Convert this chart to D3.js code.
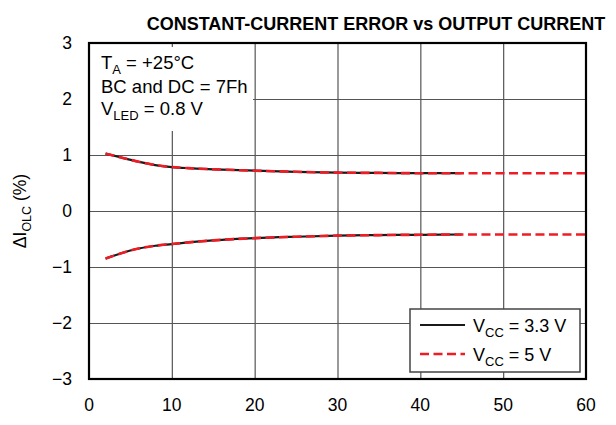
<!DOCTYPE html>
<html>
<head>
<meta charset="utf-8">
<script src="https://cdn.jsdelivr.net/npm/d3@7"></script>
<style>
  body { margin: 0; background: #fff; }
  svg { font-family: "Liberation Sans", Arial, sans-serif; }
</style>
</head>
<body>
<div id="chart"></div>
<script>
// values (output current in mA, error in %)
const current = [2, 4, 6, 8, 10, 12, 15, 20, 25, 30, 35, 40, 45];
const vcc33Upper = [1.025, 0.95, 0.88, 0.82, 0.785, 0.765, 0.745, 0.72, 0.70, 0.685, 0.68, 0.675, 0.675];
const vcc33Lower = [-0.85, -0.75, -0.67, -0.62, -0.59, -0.56, -0.525, -0.485, -0.46, -0.44, -0.43, -0.425, -0.42];
const currentFive = [2, 4, 6, 8, 10, 12, 15, 20, 25, 30, 35, 40, 45, 50, 55, 60];
const vcc5Upper = [1.025, 0.95, 0.88, 0.82, 0.785, 0.765, 0.745, 0.72, 0.70, 0.685, 0.68, 0.675, 0.675, 0.675, 0.675, 0.675];
const vcc5Lower = [-0.85, -0.75, -0.67, -0.62, -0.59, -0.56, -0.525, -0.485, -0.46, -0.44, -0.43, -0.425, -0.42, -0.42, -0.42, -0.42];
const xTicks = [0, 10, 20, 30, 40, 50, 60];
const yTicks = [-3, -2, -1, 0, 1, 2, 3];

const width = 616, height = 425;
const margin = { top: 43, right: 30, bottom: 46, left: 89 };
const innerWidth = width - margin.left - margin.right;
const innerHeight = height - margin.top - margin.bottom;
const fontSize = 17.5;

const svg = d3.select("#chart").append("svg")
    .attr("width", width)
    .attr("height", height);

const g = svg.append("g")
    .attr("transform", `translate(${margin.left},${margin.top})`);

const xScale = d3.scaleLinear().domain([0, 60]).range([0, innerWidth]);
const yScale = d3.scaleLinear().domain([-3, 3]).range([innerHeight, 0]);

// grid
g.append("g")
    .call(d3.axisBottom(xScale).tickValues(xTicks.slice(1, -1)).tickSize(innerHeight).tickFormat(""))
    .call(s => s.select(".domain").remove())
    .selectAll("line").attr("stroke", "#555").attr("stroke-width", 1.2);
g.append("g")
    .call(d3.axisLeft(yScale).tickValues(yTicks.slice(1, -1)).tickSize(-innerWidth).tickFormat(""))
    .call(s => s.select(".domain").remove())
    .selectAll("line").attr("stroke", "#555").attr("stroke-width", 1.2);

// tick labels
g.append("g")
    .selectAll("text")
    .data(xTicks)
    .join("text")
    .attr("x", d => xScale(d))
    .attr("y", innerHeight + 32)
    .attr("text-anchor", "middle")
    .attr("font-size", fontSize)
    .attr("fill", "#000")
    .text(d => d);

g.append("g")
    .selectAll("text")
    .data(yTicks)
    .join("text")
    .attr("x", -17)
    .attr("y", d => yScale(d) + 6)
    .attr("text-anchor", "end")
    .attr("font-size", fontSize)
    .attr("fill", "#000")
    .text(d => d < 0 ? "\u2212" + Math.abs(d) : d);

// white box behind the conditions text
g.append("rect")
    .attr("x", 0).attr("y", 4)
    .attr("width", 164).attr("height", 84)
    .attr("fill", "#fff");

const line = d3.line()
    .x(d => xScale(d[0]))
    .y(d => yScale(d[1]))
    .curve(d3.curveMonotoneX);

[vcc33Upper, vcc33Lower].forEach(vals => {
    g.append("path")
        .datum(current.map((c, i) => [c, vals[i]]))
        .attr("fill", "none")
        .attr("stroke", "#1a1a1a")
        .attr("stroke-width", 2.2)
        .attr("d", line);
});
[vcc5Upper, vcc5Lower].forEach(vals => {
    g.append("path")
        .datum(currentFive.map((c, i) => [c, vals[i]]))
        .attr("fill", "none")
        .attr("stroke", "#ee1c25")
        .attr("stroke-width", 2.6)
        .attr("stroke-dasharray", "9,4.5")
        .attr("d", line);
});

// plot frame
g.append("rect")
    .attr("width", innerWidth).attr("height", innerHeight)
    .attr("fill", "none")
    .attr("stroke", "#000")
    .attr("stroke-width", 2.2);

// conditions text
const notes = g.append("text")
    .attr("font-size", 18.5).attr("fill", "#000");
const t1 = notes.append("tspan").attr("x", 12).attr("y", 26);
t1.append("tspan").text("T");
t1.append("tspan").attr("font-size", 13).attr("dy", 5).text("A");
t1.append("tspan").attr("dy", -5).text(" = +25\u00B0C");
notes.append("tspan").attr("x", 12).attr("y", 50).text("BC and DC = 7Fh");
const t3 = notes.append("tspan").attr("x", 12).attr("y", 72);
t3.append("tspan").text("V");
t3.append("tspan").attr("font-size", 13).attr("dy", 5).text("LED");
t3.append("tspan").attr("dy", -5).text(" = 0.8 V");

// legend
const legend = g.append("g")
    .attr("transform", `translate(${innerWidth - 176},${innerHeight - 70})`);
legend.append("rect")
    .attr("width", 170).attr("height", 63)
    .attr("fill", "#fff")
    .attr("stroke", "#444")
    .attr("stroke-width", 1.5);
const legendItems = [
    { label: "3.3 V", color: "#1a1a1a", dash: null, width: 2.2 },
    { label: "5 V", color: "#ee1c25", dash: "9,4.5", width: 2.6 }
];
legendItems.forEach((item, i) => {
    const y = 16 + i * 29;
    legend.append("line")
        .attr("x1", 10).attr("x2", 55)
        .attr("y1", y).attr("y2", y)
        .attr("stroke", item.color)
        .attr("stroke-width", item.width)
        .attr("stroke-dasharray", item.dash);
    const txt = legend.append("text")
        .attr("x", 63).attr("y", y + 7)
        .attr("font-size", 18).attr("fill", "#000");
    txt.append("tspan").text("V");
    txt.append("tspan").attr("font-size", 13).attr("dy", 5).text("CC");
    txt.append("tspan").attr("dy", -5).text(" = " + item.label);
});

// title
svg.append("text")
    .attr("x", 376).attr("y", 30)
    .attr("text-anchor", "middle")
    .attr("font-size", 18)
    .attr("font-weight", "bold")
    .text("CONSTANT-CURRENT ERROR vs OUTPUT CURRENT");

// y axis label
const yLabel = svg.append("text")
    .attr("transform", `translate(26,${margin.top + yScale(0)}) rotate(-90)`)
    .attr("text-anchor", "middle")
    .attr("font-size", 17.5)
    .attr("fill", "#000");
yLabel.append("tspan").text("\u0394I");
yLabel.append("tspan").attr("font-size", 12.5).attr("dy", 5).text("OLC");
yLabel.append("tspan").attr("dy", -5).text(" (%)");
</script>
</body>
</html>
